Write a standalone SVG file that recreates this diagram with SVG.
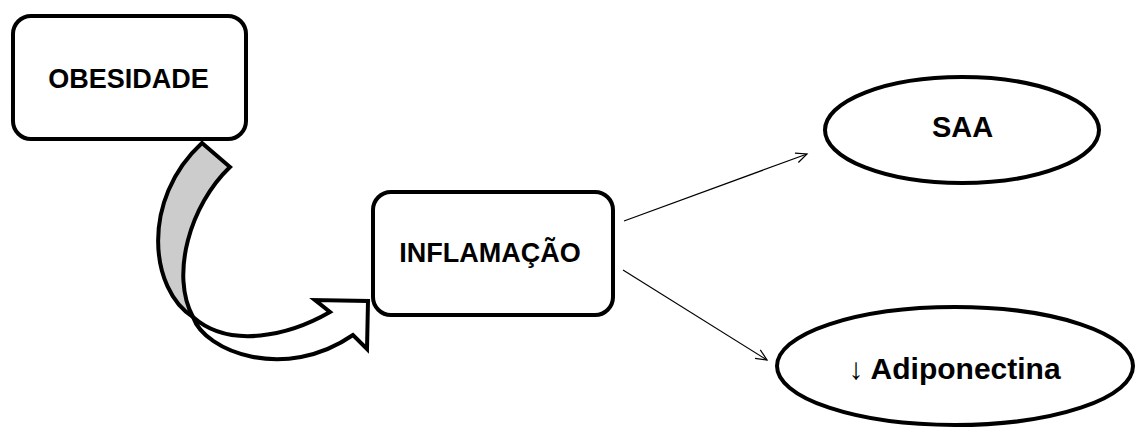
<svg xmlns="http://www.w3.org/2000/svg" width="1135" height="430" viewBox="0 0 1135 430">
  <style>
    .box { fill: #ffffff; stroke: #000000; stroke-width: 4; }
    .lbl { font-family: "Liberation Sans", Arial, sans-serif; font-weight: bold; fill: #000000; text-anchor: middle; }
    .conn { stroke: #000000; stroke-width: 1.2; fill: none; }
    .bend { stroke: #000000; stroke-width: 4; stroke-linejoin: miter; }
  </style>
  <defs>
    <marker id="open" markerWidth="14" markerHeight="12" refX="12" refY="6" orient="auto" markerUnits="userSpaceOnUse">
      <path d="M1,1 L12,6 L1,11" fill="none" stroke="#000" stroke-width="1.2"/>
    </marker>
  </defs>
  <rect width="1135" height="430" fill="#ffffff"/>

  <g id="connectors">
    <g id="curved-arrow">
      <path class="bend" fill="#cccccc" d="M202,143 L230,167 C190,205 170,275 193,317 C150,290 140,200 202,143 Z"/>
      <path class="bend" fill="#ffffff" d="M193,317 C205,352 285,382 353,335 L367,349 L368,301 L315,300 L330,312 C290,335 230,350 193,317 Z"/>
    </g>
    <line class="conn" x1="624" y1="221" x2="807" y2="154" marker-end="url(#open)"/>
    <line class="conn" x1="623" y1="270" x2="767" y2="360" marker-end="url(#open)"/>
  </g>

  <g id="obesidade">
    <rect class="box" x="13" y="16" width="233" height="123" rx="18" ry="18"/>
    <text class="lbl" x="128.5" y="88" font-size="27">OBESIDADE</text>
  </g>

  <g id="inflamacao">
    <rect class="box" x="373" y="192" width="240" height="123" rx="18" ry="18"/>
    <text class="lbl" x="490" y="262" font-size="27">INFLAMAÇÃO</text>
  </g>

  <g id="saa">
    <ellipse class="box" cx="962" cy="130" rx="137" ry="53"/>
    <text class="lbl" x="962.5" y="137" font-size="29">SAA</text>
  </g>

  <g id="adiponectina">
    <ellipse class="box" cx="955" cy="366" rx="178" ry="59"/>
    <text class="lbl" x="954.5" y="379" font-size="30">↓ Adiponectina</text>
  </g>
</svg>
